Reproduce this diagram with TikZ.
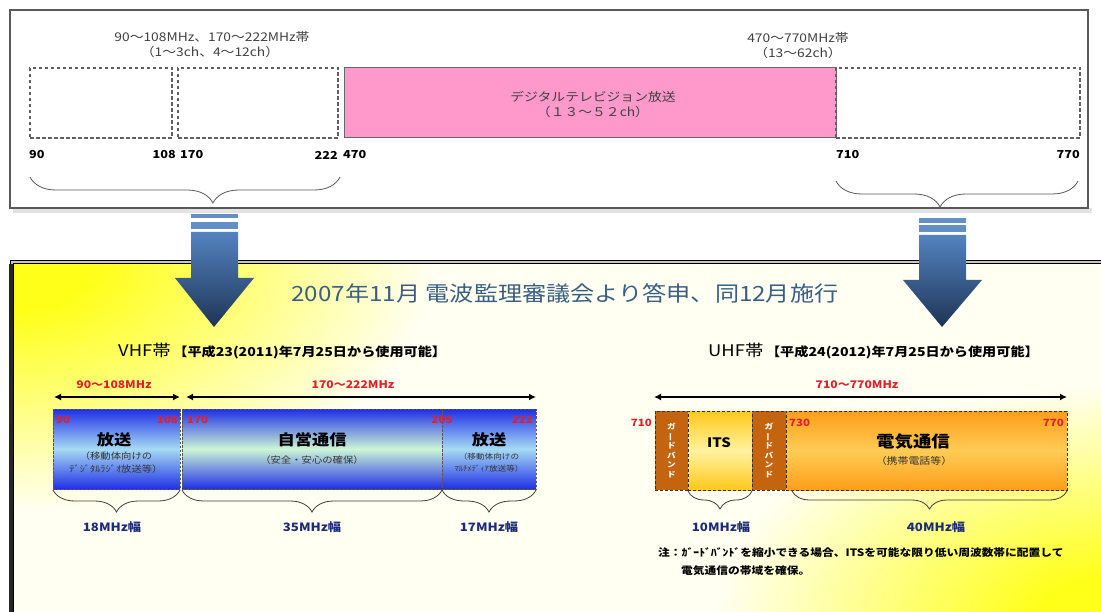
\documentclass[tikz,border=0pt]{standalone}
\usepackage{fontspec}
\setmainfont{Noto Sans CJK JP}[FakeStretch=1.15]
\usetikzlibrary{decorations.pathreplacing,arrows.meta}
\definecolor{pinkbox}{HTML}{FF99CC}
\definecolor{vblue}{HTML}{1F2FE6}
\definecolor{vcyan}{HTML}{A6DAF4}
\definecolor{vgreen}{HTML}{CDF6D6}
\definecolor{guard}{HTML}{C4640E}
\definecolor{itsY}{HTML}{FFC81A}
\definecolor{itsL}{HTML}{FFF2A0}
\definecolor{orng}{HTML}{FF9E1A}
\definecolor{orngL}{HTML}{FFCC55}
\definecolor{redn}{HTML}{E0202A}
\definecolor{navyt}{HTML}{1C2A7A}
\definecolor{titleblue}{HTML}{3A5F82}
\definecolor{arrTop}{HTML}{5383C0}
\definecolor{arrBot}{HTML}{1E3455}
\definecolor{graytxt}{HTML}{404040}
\definecolor{ylw}{HTML}{FFFF1A}
\definecolor{ylwM}{HTML}{FFFF70}
\definecolor{cream}{HTML}{FFFFF2}
\pgfdeclareradialshading{cornerglow}{\pgfpoint{0bp}{0bp}}{color(0bp)=(ylw); color(5bp)=(ylw); color(13bp)=(ylwM); color(25bp)=(cream); color(50bp)=(cream)}
\tikzset{
  toplbl/.style={font=\fontsize{12}{14}\selectfont, text=graytxt, inner sep=0pt, align=center},
  topnum/.style={font=\bfseries\fontsize{11}{12}\selectfont, inner sep=0pt},
  topdash/.style={draw=gray!75!black, line width=1.1pt, dash pattern=on 3.5pt off 2.5pt},
  bandbox/.style={inner sep=0pt, outer sep=0pt, anchor=north west},
  vdash/.style={draw=black!65, line width=0.8pt, dash pattern=on 2.5pt off 1.5pt},
  udash/.style={draw=black!80, line width=1pt, dash pattern=on 3pt off 2pt},
  rednum/.style={font=\bfseries\fontsize{10}{11}\selectfont, text=redn, inner sep=0pt},
  redrng/.style={font=\bfseries\fontsize{10.5}{12}\selectfont, text=redn, inner sep=0pt},
  wlbl/.style={font=\bfseries\fontsize{11.5}{13}\selectfont, text=navyt, inner sep=0pt},
  bandbig/.style={font=\bfseries\fontsize{15}{17}\selectfont, inner sep=0pt},
  bandsmall/.style={font=\fontsize{9}{13}\selectfont, text=black!80, inner sep=0pt, align=center},
  brc/.style={decorate, decoration={brace, mirror, amplitude=#1}, draw=black!75, line width=0.8pt},
  topbrc/.style={decorate, decoration={brace, mirror, amplitude=#1}, draw=gray!70!black, line width=0.8pt},
  dbl/.style={{Latex[length=7pt,width=7pt]}-{Latex[length=7pt,width=7pt]}, line width=1.8pt},
  gtxt/.style={font=\bfseries\fontsize{7.5}{9.6}\selectfont, text=white, inner sep=0pt, align=center},
}
\begin{document}
\begin{tikzpicture}[x=1pt,y=-1pt]
\useasboundingbox (0,0) rectangle (1101,612);
\clip (0,0) rectangle (1101,612);
\fill[white] (0,0) rectangle (1101,612);

% ---------------- top panel ----------------
\fill[gray!22] (13,208) rectangle (1092,213);
\node[bandbox, draw=gray!70!black, line width=1.2pt, fill=white, minimum width=1078pt, minimum height=198pt] (toppanel) at (10,10) {};

\node[bandbox, topdash, minimum width=142pt, minimum height=70pt] (tb1) at (30,68) {};
\node[bandbox, topdash, minimum width=160pt, minimum height=70pt] (tb2) at (178,68) {};
\node[bandbox, draw=gray!80!black, line width=1pt, fill=pinkbox, minimum width=492pt, minimum height=70pt] (tpink) at (344,68) {};
\node[bandbox, topdash, minimum width=244pt, minimum height=70pt] (tb4) at (836,68) {};

\node[toplbl] (tl1) at (212,37) {90〜108MHz、170〜222MHz帯};
\node[toplbl] (tl2) at (210,52) {（1〜3ch、4〜12ch）};
\node[toplbl] (tl3) at (798,38) {470〜770MHz帯};
\node[toplbl] (tl4) at (798,53) {（13〜62ch）};
\node[toplbl] (tp1) at (593,97) {デジタルテレビジョン放送};
\node[toplbl] (tp2) at (593,112) {（１３〜５２ch）};

\node[topnum, anchor=west] (n90) at (29,155) {90};
\node[topnum, anchor=east] (n108) at (176,155) {108};
\node[topnum, anchor=west] (n170) at (180,155) {170};
\node[topnum, anchor=east] (n222) at (338,155) {222};
\node[topnum, anchor=west] (n470) at (343,155) {470};
\node[topnum, anchor=west] (n710) at (836,155) {710};
\node[topnum, anchor=east] (n770) at (1080,155) {770};

\coordinate (lbA) at (30,177); \coordinate (lbB) at (340,177);
\coordinate (rbA) at (836,181); \coordinate (rbB) at (1078,181);
\draw[topbrc=26pt, decoration={aspect=0.59}] (lbA) -- (lbB);
\draw[topbrc=26pt, decoration={aspect=0.43}] (rbA) -- (rbB);

% ---------------- bottom panel ----------------
\fill[cream] (12,262) rectangle (1120,640);
\begin{scope}
  \clip (12,262) rectangle (1120,640);
  \shade[shading=cornerglow] (12,262) ellipse [x radius=420pt, y radius=250pt];
  \shade[shading=cornerglow] (1115,625) ellipse [x radius=400pt, y radius=240pt];
\end{scope}
\draw[line width=1.4pt, double=gray!45, double distance=1.4pt] (12,262) rectangle (1120,640);
\draw[line width=4pt, black!85] (11,264) -- (11,612);

% big arrows
\fill[arrTop!90] (191,214) rectangle (238,218);
\fill[arrTop!90] (191,222) rectangle (238,229);
\shade[top color=arrTop, bottom color=arrBot] (191,232) -- (238,232) -- (238,278) -- (254,278) -- (214,327) -- (175,278) -- (191,278) -- cycle;
\fill[arrTop!90] (919,218) rectangle (966,223);
\fill[arrTop!90] (919,225) rectangle (966,232);
\shade[top color=arrTop, bottom color=arrBot] (919,235) -- (966,235) -- (966,280) -- (982,280) -- (942,327) -- (903,280) -- (919,280) -- cycle;

\node[font=\fontsize{21}{24}\selectfont, text=titleblue, inner sep=0pt] (title) at (565,293) {2007年11月\ 電波監理審議会より答申、同12月施行};

\node[anchor=west, inner sep=0pt] (vhf) at (118,351) {\fontsize{16}{18}\selectfont VHF帯\,\bfseries\fontsize{12.3}{14}\selectfont【平成23(2011)年7月25日から使用可能】};
\node[anchor=west, inner sep=0pt] (uhf) at (708,351) {\fontsize{16}{18}\selectfont UHF帯\,\bfseries\fontsize{12.3}{14}\selectfont【平成24(2012)年7月25日から使用可能】};

% VHF range arrows
\coordinate (va1) at (54,397); \coordinate (va2) at (180,397);
\coordinate (va3) at (186,397); \coordinate (va4) at (536,397);
\draw[dbl] (va1) -- (va2);
\draw[dbl] (va3) -- (va4);
\node[redrng] (vr1) at (114,385) {90〜108MHz};
\node[redrng] (vr2) at (353,385) {170〜222MHz};

% VHF boxes
\node[bandbox, vdash, top color=vblue, bottom color=vblue, middle color=vcyan, minimum width=127pt, minimum height=80pt] (vb1) at (53,409) {};
\node[bandbox, vdash, top color=vblue, bottom color=vblue, middle color=vgreen, minimum width=260pt, minimum height=80pt] (vb2) at (182,409) {};
\node[bandbox, vdash, top color=vblue, bottom color=vblue, middle color=vcyan, minimum width=94pt, minimum height=80pt] (vb3) at (442,409) {};

\node[rednum, anchor=west] (r90) at (56,420) {90};
\node[rednum, anchor=east] (r108) at (178,420) {108};
\node[rednum, anchor=west] (r170) at (187,420) {170};
\node[rednum] (r205) at (442,420) {205};
\node[rednum, anchor=east] (r222) at (533,420) {222};

\node[bandbig] (hs1) at (114,440) {放送};
\node[bandsmall] (hs1b) at (116,463) {（移動体向けの\\ﾃﾞｼﾞﾀﾙﾗｼﾞｵ放送等）};
\node[bandbig] (js) at (312,440) {自営通信};
\node[bandsmall] (jsb) at (312,460) {（安全・安心の確保）};
\node[bandbig] (hs3) at (489,440) {放送};
\node[bandsmall, font=\fontsize{7.5}{12}\selectfont] (hs3b) at (489,463) {（移動体向けの\\ﾏﾙﾁﾒﾃﾞｨｱ放送等）};

\draw[brc=22pt] ([yshift=-1pt]vb1.south west) -- ([yshift=-1pt]vb1.south east);
\draw[brc=22pt] ([yshift=-1pt]vb2.south west) -- ([yshift=-1pt]vb2.south east);
\draw[brc=22pt] ([yshift=-1pt]vb3.south west) -- ([yshift=-1pt]vb3.south east);
\node[wlbl] (w18) at (112,527) {18MHz幅};
\node[wlbl] (w35) at (312,527) {35MHz幅};
\node[wlbl] (w17) at (489,527) {17MHz幅};

% UHF
\coordinate (ua1) at (654,397); \coordinate (ua2) at (1067,397);
\draw[dbl] (ua1) -- (ua2);
\node[redrng] (ur) at (857,385) {710〜770MHz};

\node[bandbox, udash, fill=guard, minimum width=33pt, minimum height=79pt] (ug1) at (655,411) {};
\node[bandbox, udash, top color=itsY, bottom color=itsY, middle color=itsL, minimum width=64pt, minimum height=79pt] (uits) at (688,411) {};
\node[bandbox, udash, fill=guard, minimum width=34pt, minimum height=79pt] (ug2) at (752,411) {};
\node[bandbox, udash, top color=orng, bottom color=orng, middle color=orngL, minimum width=281pt, minimum height=79pt] (utel) at (786,411) {};

\node[gtxt] (gt1) at (ug1.center) {ガ\\\rotatebox[origin=c]{90}{ー}\\ド\\バ\\ン\\ド};
\node[gtxt] (gt2) at (ug2.center) {ガ\\\rotatebox[origin=c]{90}{ー}\\ド\\バ\\ン\\ド};
\node[font=\bfseries\fontsize{13}{15}\selectfont, inner sep=0pt] (itst) at (719,443) {ITS};
\node[bandbig, font=\bfseries\fontsize{16}{18}\selectfont] (tel) at (913,442) {電気通信};
\node[bandsmall, font=\fontsize{9.5}{12}\selectfont] (telb) at (914,461) {（携帯電話等）};

\node[rednum, anchor=east] (r710) at (652,423) {710};
\node[rednum, anchor=west] (r730) at (789,423) {730};
\node[rednum, anchor=east] (r770) at (1064,423) {770};

\draw[brc=18pt] ([yshift=-1pt]uits.south west) -- ([yshift=-1pt]uits.south east);
\draw[brc=18pt] ([xshift=6pt,yshift=-1pt]utel.south west) -- ([yshift=-1pt]utel.south east);
\node[wlbl] (w10) at (721,527) {10MHz幅};
\node[wlbl] (w40) at (936,527) {40MHz幅};

\node[anchor=west, inner sep=0pt, font=\bfseries\fontsize{10.2}{11}\selectfont] (note1) at (658,553) {注：ｶﾞｰﾄﾞﾊﾞﾝﾄﾞを縮小できる場合、ITSを可能な限り低い周波数帯に配置して};
\node[anchor=west, inner sep=0pt, font=\bfseries\fontsize{10.2}{11}\selectfont] (note2) at (681,571) {電気通信の帯域を確保。};
\end{tikzpicture}
\end{document}
